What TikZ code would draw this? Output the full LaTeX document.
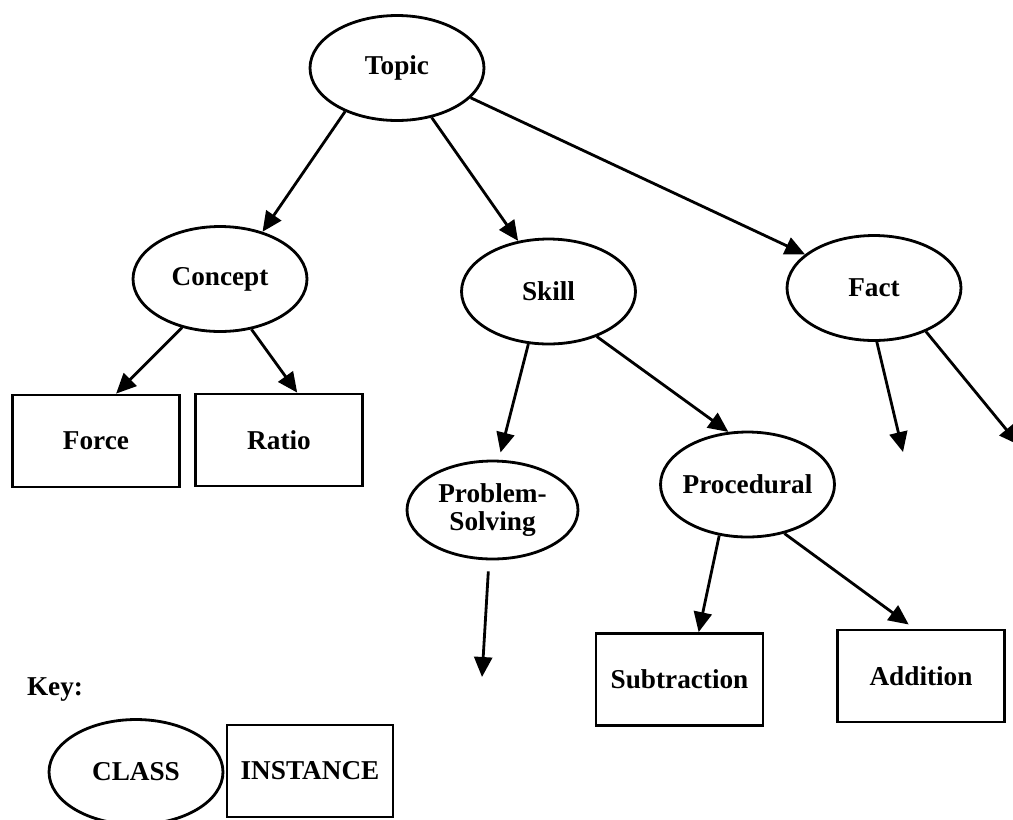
\documentclass[tikz,border=0pt]{standalone}
\usepackage{fontspec}
\setmainfont{Liberation Serif}
\usetikzlibrary{shapes.geometric,arrows.meta}
\begin{document}
\begin{tikzpicture}[x=0.02cm,y=-0.02cm,
  every node/.style={font=\bfseries\fontsize{15.5}{17.5}\selectfont},
  classnode/.style={draw,line width=1.6pt,ellipse,inner sep=0pt,
    minimum width=3.48cm,minimum height=2.1cm},
  instnode/.style={draw,line width=1.6pt,rectangle,inner sep=0pt,
    minimum width=3.34cm,minimum height=1.84cm},
  arr/.style={line width=1.6pt,-{Triangle[length=0.4cm,width=0.36cm]}}]
\useasboundingbox (0,0) rectangle (1013,819);
\clip (0,0) rectangle (1013,819);

% class hierarchy
\node[classnode] (topic) at (397,68) {Topic};
\node[classnode] (concept) at (220,279) {Concept};
\node[classnode] (skill) at (548.5,291.5) {Skill};
\node[classnode] (fact) at (874,288) {Fact};
\node[classnode,minimum width=3.42cm,minimum height=1.96cm,align=center] (ps) at (492.5,510)
  {Problem-\\[-2pt]Solving};
\node[classnode,inner xsep=-6pt] (proc) at (747.5,484.5) {Procedural};

% instances
\node[instnode] (force) at (96,441) {Force};
\node[instnode] (ratio) at (279,440) {Ratio};
\node[instnode] (sub) at (679.5,679.5) {Subtraction};
\node[instnode] (add) at (921,676) {Addition};

% open-ended branches
\coordinate (factA) at (903,452);
\coordinate (factB) at (1019,445);
\coordinate (psend) at (482,677);

% connectors
\draw[arr] (topic.-140) -- (concept.48);
\draw[arr] (topic.-55.5) -- (skill.121);
\draw[arr] (topic.-22.8) -- (fact.154);
\draw[arr] (concept.-128.7) -- (force.67.6);
\draw[arr] (concept.-58.7) -- (ratio.69.4);
\draw[arr,shorten >=0.15cm] (skill.-111) -- (ps.83);
\draw[arr] (skill.-43.2) -- (proc.110.4);
\draw[arr] (fact.-87) -- (factA);
\draw[arr] (fact.-40.3) -- (factB);
\draw[arr,shorten <=0.22cm] (ps.-94) -- (psend);
\draw[arr] (proc.-119.3) -- (sub.68.7);
\draw[arr,shorten >=0.14cm] (proc.-53) -- (add.98.4);

% key
\node (key) at (55,690) {Key:};
\node[classnode] (cls) at (136,772) {CLASS};
\node[instnode,minimum width=3.32cm] (inst) at (310,771) {INSTANCE};
\end{tikzpicture}
\end{document}
